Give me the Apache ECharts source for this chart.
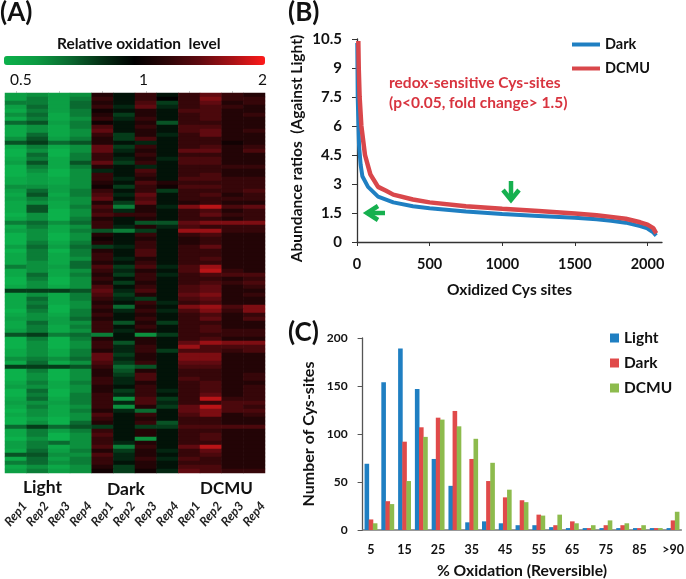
<!DOCTYPE html>
<html><head><meta charset="utf-8">
<style>html,body{margin:0;padding:0;background:#fff}#c{width:686px;height:579px}</style>
<script src="https://cdn.jsdelivr.net/npm/echarts@6/dist/echarts.min.js"></script>
</head><body><div id="c"></div>
<script>
// Panel A: log2 ratio x10, one row per site, columns Light1-4, Dark1-4, DCMU1-4
const repLabels = ['Rep1','Rep2','Rep3','Rep4','Rep1','Rep2','Rep3','Rep4','Rep1','Rep2','Rep3','Rep4'];
const heatRows = [
[-8,-7,-8,-7,2,-1,3,-1,3,5,3,2],[-8,-6,-8,-6,3,-1,3,0,3,6,3,3],[-6,-6,-8,-5,2,-1,4,-3,3,5,2,3],[-8,-5,-8,-5,3,-2,5,-2,3,4,3,2],
[-9,-6,-8,-6,1,-1,2,-1,4,4,2,2],[-7,-5,-9,-6,2,-3,2,-1,3,4,2,3],[-9,-6,-9,-7,3,-2,3,-1,3,4,2,2],[-5,-4,-8,-6,1,-1,2,-4,3,3,2,2],
[-9,-7,-9,-6,4,-1,3,-1,4,4,2,2],[-9,-7,-9,-7,5,-1,2,-1,4,5,2,3],[-9,-5,-9,-7,3,-3,2,-2,3,5,2,2],[-7,-4,-8,-6,2,-3,4,-1,3,3,2,2],
[-4,-3,-5,-4,2,-1,-2,-1,3,3,1,2],[-9,-6,-9,-7,5,-3,3,-1,3,4,2,3],[-10,-7,-10,-7,5,-2,2,-1,5,5,2,4],[-10,-5,-10,-6,3,-1,3,-1,3,3,2,2],
[-9,-6,-9,-6,3,-2,2,-2,4,4,2,2],[-8,-4,-9,-4,5,-3,3,-1,4,4,2,2],[-10,-6,-9,-6,2,-1,-2,-1,3,3,3,3],[-10,-7,-10,-7,-2,-1,4,-1,3,3,2,2],
[-10,-8,-10,-7,3,-1,3,-1,3,4,2,2],[-9,-8,-9,-7,3,-2,2,-1,4,4,3,3],[-9,-8,-9,-7,2,-1,4,2,3,3,3,3],[-7,-7,-8,-7,1,-3,3,1,4,4,3,3],
[-8,-5,-8,-6,3,-1,3,-3,3,3,3,4],[-9,-4,-9,-6,4,-2,5,-1,3,4,2,3],[-8,-6,-8,-7,5,-1,4,-1,3,3,3,3],[-9,-7,-9,-7,2,-3,5,-1,2,3,2,2],
[-9,-4,-9,-6,4,-6,2,-2,6,8,4,5],[-9,-4,-10,-7,3,-2,2,-1,3,4,2,3],[-10,-7,-10,-7,4,3,3,-1,3,5,3,3],[-9,-7,-10,-6,2,-1,2,-1,3,3,2,3],
[-6,-5,-7,-5,3,-1,-4,-4,5,6,6,6],[-9,-6,-9,-7,3,-2,2,-2,4,3,3,3],[-8,-7,-9,-6,-4,-6,-3,-1,7,7,3,3],[-10,-7,-10,-7,2,-1,3,-1,3,4,2,2],
[-10,-7,-10,-7,1,-1,2,-1,2,3,2,2],[-10,-6,-9,-6,2,-1,3,-1,2,3,2,2],[-8,-5,-8,-5,-3,-2,3,-1,3,5,2,2],[-10,-6,-10,-6,2,-1,4,-1,3,3,2,2],
[-9,-6,-9,-6,3,-1,4,-1,3,3,2,2],[-9,-6,-9,-7,3,-2,2,-1,3,4,2,2],[-9,-7,-9,-5,2,-1,3,-1,3,3,2,2],[-6,-7,-8,-5,4,-3,4,-2,4,7,2,2],
[-9,-7,-9,-7,3,-2,2,-1,4,8,3,2],[-9,-5,-9,-6,2,-3,3,-2,3,4,4,4],[-10,-6,-10,-7,3,-1,3,-1,3,3,2,3],[-10,-7,-10,-7,2,-3,2,-1,3,4,3,4],
[-9,-7,-9,-7,4,-1,3,-1,4,5,2,3],[-3,-3,-3,-4,5,-2,4,-1,4,5,2,2],[-9,-7,-9,-6,4,-3,2,-1,5,6,2,3],[-9,-5,-9,-6,3,-2,-3,-1,4,5,2,2],
[-9,-6,-9,-7,2,-1,3,-2,3,4,2,2],[-9,-5,-10,-7,3,-5,2,-1,6,7,4,6],[-10,-6,-10,-6,2,-2,3,-2,4,6,3,6],[-9,-7,-9,-6,3,-1,2,-1,3,4,2,3],
[-8,-7,-8,-5,2,-1,3,-1,3,5,2,4],[-9,-5,-8,-7,3,-4,2,-3,3,3,2,2],[-9,-6,-9,-6,3,-1,3,-1,3,4,2,2],[-8,-6,-9,-7,3,-2,2,-1,3,4,3,3],
[-4,-3,-6,-5,-6,-1,-7,-3,3,3,3,3],[-10,-6,-10,-6,2,-1,2,-1,3,4,2,2],[-10,-7,-10,-7,3,-4,2,-1,5,7,6,6],[-10,-7,-10,-7,3,-2,3,-1,7,4,4,4],
[-9,-7,-9,-6,2,-2,3,-3,4,4,3,4],[-9,-7,-9,-6,5,-3,2,-1,6,6,2,2],[-7,-6,-7,-5,5,-2,2,-1,6,6,2,2],[-9,-5,-9,-7,4,-3,3,-1,5,5,2,2],
[-3,-3,-3,-4,3,-5,-4,-1,4,4,2,2],[-10,-6,-10,-7,2,-4,2,-1,3,3,2,2],[-10,-7,-10,-7,2,-3,4,-1,3,3,2,3],[-10,-7,-10,-7,3,-2,4,-1,4,3,2,3],
[-9,-6,-9,-6,3,-2,2,-1,3,4,2,2],[-8,-7,-9,-7,2,-1,3,-1,3,4,2,3],[-10,-5,-10,-7,2,-3,3,-2,3,4,2,3],[-10,-6,-10,-6,3,-2,3,-1,3,5,2,3],
[-9,-5,-9,-6,3,-7,4,-3,3,8,3,3],[-8,-7,-8,-6,3,-2,4,-2,3,3,4,4],[-9,-6,-9,-7,3,-7,2,-3,5,8,4,3],[-10,-7,-9,-6,2,-2,-5,-1,5,6,4,4],
[-9,-7,-9,-7,4,-1,3,-1,4,6,2,3],[-10,-8,-10,-7,3,-1,2,-1,3,3,2,2],[-10,-7,-10,-5,2,-1,3,-4,3,3,2,2],[-5,-3,-5,-4,-3,-1,-3,-3,4,4,4,4],
[-9,-6,-8,-6,3,-1,2,-1,3,3,2,2],[-9,-6,-10,-7,4,-1,2,-1,3,4,2,2],[-10,-7,-10,-7,3,-1,-7,-1,3,4,2,2],[-8,-6,-5,-7,3,-2,2,-1,3,3,2,2],
[-8,-6,-9,-7,4,-6,3,-1,5,8,2,2],[-9,-5,-8,-6,2,-3,2,-2,3,5,2,2],[-4,-4,-7,-7,4,-2,2,-1,3,4,2,2],[-9,-5,-8,-6,3,-2,3,-2,4,3,2,2],
[-6,-5,-7,-6,3,-1,2,-1,3,3,2,2],[-9,-7,-9,-7,2,-3,2,-1,4,4,2,2],[-8,-6,-8,-7,1,-3,1,-2,5,4,3,3]
];
// Panel B: [site rank, ratio]
const darkCurve = [[2,10.3],[5,7.5],[10,6],[14,5],[25,4],[37,3.4],[76,2.85],[145,2.35],[250,2.05],[385,1.85],[500,1.75],[750,1.58],[1000,1.45],[1250,1.35],[1500,1.25],[1650,1.18],[1750,1.1],[1850,1],[1950,0.82],[2000,0.7],[2040,0.5],[2060,0.33]];
const dcmuCurve = [[9,10.4],[12,9],[18,7.5],[30,6],[55,4.5],[92,3.5],[145,2.85],[200,2.65],[250,2.45],[385,2.2],[500,2.05],[750,1.85],[1000,1.72],[1250,1.6],[1500,1.47],[1650,1.38],[1750,1.3],[1850,1.2],[1950,1.02],[2000,0.9],[2040,0.72],[2060,0.45]];
// Panel C
const pctCats = ['5','10','15','20','25','30','35','40','45','50','55','60','65','70','75','80','85','90','>90'];
const lightBars = [69,154,189,147,74,46,8,9,7,5,5,3,2,2,2,2,2,2,2];
const darkBars = [11,30,92,107,117,124,74,51,34,31,16,5,9,2,5,5,2,2,10];
const dcmuBars = [7,27,51,97,115,108,95,70,42,29,15,16,7,5,10,7,5,2,19];

const FONT = 'Lato';
const BLUE='#1f7fc2', RED='#d9474b', BAR_RED='#e04a4a', BAR_GREEN='#8dbb4d', ARROW='#16b04f';
const heatData = [];
heatRows.forEach((r,y)=>r.forEach((v,x)=>heatData.push([x,y,v])));
const bold = (s)=>({fontFamily:FONT,fontWeight:'bold',fontSize:s,color:'#111'});
const text = (x,y,t,s,extra)=>({type:'text',left:x,top:y,silent:true,style:Object.assign({text:t,font:`bold ${s}px ${FONT}`,fill:'#111'},extra||{})});
const arrow = (pts)=>({type:'polyline',silent:true,shape:{points:pts},style:{stroke:ARROW,lineWidth:4.5,fill:null}});

const chart = echarts.init(document.getElementById('c'),null,{renderer:'canvas'});
chart.setOption({
  animation:false,
  backgroundColor:'#fff',
  grid:[
    {left:5,top:93,width:260,height:380,outerBoundsMode:'none'},
    {left:357,top:39,width:305,height:203,outerBoundsMode:'none'},
    {left:362.6,top:338,width:318.8,height:192,outerBoundsMode:'none'}
  ],
  xAxis:[
    {gridIndex:0,type:'category',data:repLabels,axisLine:{show:false},axisTick:{show:false},splitLine:{show:false},
     axisLabel:{interval:0,rotate:50,align:'center',verticalAlign:'middle',margin:41,fontFamily:FONT,fontSize:12.5,fontStyle:'italic',fontWeight:'bold',color:'#222'}},
    {gridIndex:1,type:'value',min:0,max:2100,interval:500,splitLine:{show:false},
     axisLine:{lineStyle:{color:'#333',width:1.3}},axisTick:{length:4,lineStyle:{color:'#333'},customValues:[0,500,1000,1500,2000]},
     axisLabel:Object.assign({margin:15,customValues:[0,500,1000,1500,2000],formatter:v=>String(v)},bold(14.5)),
     name:'Oxidized Cys sites',nameLocation:'middle',nameGap:40,nameTextStyle:bold(15.5)},
    {gridIndex:2,type:'category',data:pctCats,axisLine:{lineStyle:{color:'#777',width:1.5}},axisTick:{show:false},splitLine:{show:false},
     axisLabel:Object.assign({interval:1,margin:13},bold(12.5)),
     name:'% Oxidation (Reversible)',nameLocation:'middle',nameGap:33,nameTextStyle:bold(15.7)},
    {gridIndex:0,type:'category',position:'top',data:repLabels,axisLine:{show:false},axisLabel:{show:false},splitLine:{show:false},
     axisTick:{show:true,alignWithLabel:true,length:2,lineStyle:{color:'#ccc'}}}
  ],
  yAxis:[
    {gridIndex:0,type:'category',inverse:true,data:heatRows.map((r,i)=>i),axisLine:{show:false},axisTick:{show:false},axisLabel:{show:false},splitLine:{show:false}},
    {gridIndex:1,type:'value',min:0,max:10.5,interval:1.5,splitLine:{show:false},
     axisLine:{show:true,lineStyle:{color:'#333',width:1.3}},axisTick:{show:true,length:5,lineStyle:{color:'#333'}},
     axisLabel:Object.assign({margin:15,formatter:v=>String(v)},bold(15)),
     name:'Abundance ratios  (Against Light)',nameLocation:'middle',nameGap:52,nameTextStyle:Object.assign({padding:[0,16,0,0]},bold(15.5))},
    {gridIndex:2,type:'value',min:0,max:200,interval:50,splitLine:{show:false},
     axisLine:{show:true,lineStyle:{color:'#555',width:1.3}},axisTick:{show:true,length:5,lineStyle:{color:'#555'}},
     axisLabel:Object.assign({margin:15},bold(12)),
     name:'Number of Cys-sites',nameLocation:'middle',nameGap:46,nameTextStyle:bold(16)}
  ],
  legend:[
    {left:572,top:37,padding:0,orient:'vertical',icon:'rect',itemWidth:28,itemHeight:4,itemGap:9,selectedMode:false,
     textStyle:bold(14.5),data:[{name:'Dark',itemStyle:{color:BLUE}},{name:'DCMU',itemStyle:{color:RED}}]},
    {left:610,top:330,padding:0,orient:'vertical',icon:'rect',itemWidth:9,itemHeight:9,itemGap:9,selectedMode:false,
     textStyle:bold(15.5),data:[{name:'Light',itemStyle:{color:BLUE}},{name:'Dark',itemStyle:{color:BAR_RED}},{name:'DCMU',itemStyle:{color:BAR_GREEN}}]}
  ],
  visualMap:{type:'continuous',seriesIndex:2,min:-10,max:10,orient:'horizontal',left:4,top:56,itemWidth:9,itemHeight:261,
    calculable:false,realtime:false,hoverLink:false,text:null,textStyle:{fontSize:0},padding:0,
    inRange:{color:['#0cb14b','#0c9a42','#0a6a30','#043015','#000000','#2c0507','#600a10','#a81216','#ff1a1a']}},
  series:[
    {name:'Dark',type:'line',xAxisIndex:1,yAxisIndex:1,data:darkCurve,showSymbol:false,lineStyle:{color:BLUE,width:4},itemStyle:{color:BLUE}},
    {name:'DCMU',type:'line',xAxisIndex:1,yAxisIndex:1,data:dcmuCurve,showSymbol:false,lineStyle:{color:RED,width:4.5},itemStyle:{color:RED}},
    {name:'heat',type:'heatmap',xAxisIndex:0,yAxisIndex:0,data:heatData,progressive:0,emphasis:{disabled:true},itemStyle:{borderWidth:0}},
    {name:'Light',type:'bar',xAxisIndex:2,yAxisIndex:2,data:lightBars,barWidth:4.6,barGap:'-10%',itemStyle:{color:BLUE}},
    {name:'Dark',type:'bar',xAxisIndex:2,yAxisIndex:2,data:darkBars,barWidth:4.6,barGap:'-10%',itemStyle:{color:BAR_RED}},
    {name:'DCMU',type:'bar',xAxisIndex:2,yAxisIndex:2,data:dcmuBars,barWidth:4.6,barGap:'-10%',itemStyle:{color:BAR_GREEN}}
  ],
  graphic:[
    text(0,0,'(A)',26),text(288,0,'(B)',26),text(288,320,'(C)',26),
    text(57,36,'Relative oxidation  level',15.5),
    text(10,72,'0.5',15.5,{font:`15.5px ${FONT}`}),text(139,72,'1',15.5,{font:`15.5px ${FONT}`}),text(258,72,'2',15.5,{font:`15.5px ${FONT}`}),
    text(23,478,'Light',17.5),text(107,480,'Dark',17.5),text(200,480,'DCMU',17),
    text(389,75,'redox-sensitive Cys-sites',15.5,{fill:'#d8343f'}),
    text(389,95,'(p<0.05, fold change> 1.5)',15.5,{fill:'#d8343f'}),
    arrow([[385,213],[367,213]]),arrow([[378,206],[367,213],[378,220]]),
    arrow([[511,181],[511,200]]),arrow([[503,190],[511,200],[519,190]])
  ]
});
</script></body></html>
